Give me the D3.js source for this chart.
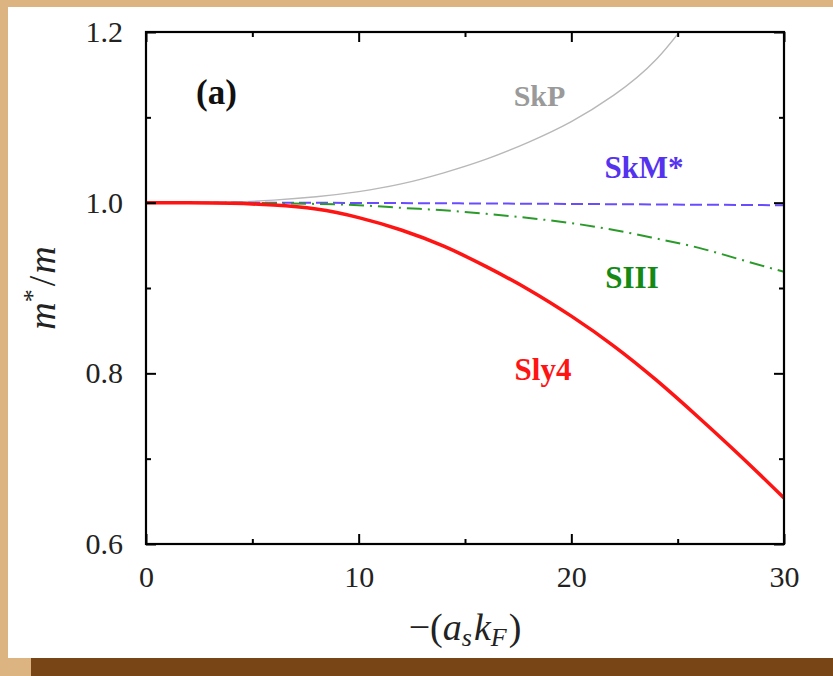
<!DOCTYPE html>
<html>
<head>
<meta charset="utf-8">
<script src="https://cdn.jsdelivr.net/npm/d3@7"></script>
<style>
  html, body { margin: 0; padding: 0; background: #dcb482; }
  svg { display: block; }
  text { font-family: "Liberation Serif", "DejaVu Serif", serif; }
</style>
</head>
<body>
<svg id="chart" width="833" height="676"></svg>
<script>
// -(a_s k_F) sample points
const kF   = [0, 2, 4, 6, 8, 10, 12, 14, 16, 18, 20, 22, 24, 26, 28, 30];
const sly4 = [1.0, 0.9999, 0.9993, 0.9972, 0.9925, 0.9825, 0.968, 0.949, 0.925, 0.898, 0.867, 0.832, 0.792, 0.748, 0.702, 0.654];
const siii = [1.0, 1.0, 0.9998, 0.9993, 0.9985, 0.997, 0.994, 0.991, 0.987, 0.982, 0.976, 0.968, 0.958, 0.947, 0.933, 0.919];
const skm  = [1.0, 1.0, 1.0, 0.9999, 0.9998, 0.9997, 0.9995, 0.9993, 0.999, 0.9988, 0.9985, 0.9982, 0.9979, 0.9976, 0.9973, 0.997];
// SkP leaves the frame near 25, so its samples stop just past the top edge
const skpK = [0, 2, 4, 6, 8, 10, 12, 14, 16, 18, 20, 22, 24, 26];
const skp  = [1.0, 1.0, 1.0007, 1.003, 1.007, 1.013, 1.022, 1.035, 1.051, 1.071, 1.095, 1.126, 1.168, 1.23];

const xMajor = [0, 10, 20, 30];
const xMinor = [5, 15, 25];
const yMajor = [0.6, 0.8, 1.0, 1.2];
const yMinor = [0.7, 0.9, 1.1];

const svg = d3.select("#chart");

// page frame
svg.append("rect").attr("x", 8).attr("y", 7).attr("width", 825).attr("height", 651).attr("fill", "#ffffff");
svg.append("rect").attr("x", 31).attr("y", 658).attr("width", 802).attr("height", 18).attr("fill", "#784516");

const L = 146, R = 784, T = 32, B = 544;
const x = d3.scaleLinear().domain([0, 30]).range([L, R]);
const y = d3.scaleLinear().domain([0.6, 1.2]).range([B, T]);

svg.append("clipPath").attr("id", "plotclip")
  .append("rect").attr("x", L).attr("y", T).attr("width", R - L).attr("height", B - T);

const plot = svg.append("g").attr("clip-path", "url(#plotclip)");
const line = (xs) => d3.line().x((d, i) => x(xs[i])).y(d => y(d)).curve(d3.curveNatural);

plot.append("path").datum(skp).attr("d", line(skpK))
  .attr("fill", "none").attr("stroke", "#b8b8b8").attr("stroke-width", 1.4);
plot.append("path").datum(skm).attr("d", line(kF))
  .attr("fill", "none").attr("stroke", "#6a4cff").attr("stroke-width", 2).attr("stroke-dasharray", "12,5");
plot.append("path").datum(siii).attr("d", line(kF))
  .attr("fill", "none").attr("stroke", "#2a9a2a").attr("stroke-width", 2).attr("stroke-dasharray", "15,6,2,6");
plot.append("path").datum(sly4).attr("d", line(kF))
  .attr("fill", "none").attr("stroke", "#ff1414").attr("stroke-width", 3.5);

// axes with inward ticks on all four sides
const fmtY = d3.format(".1f");
function styleAxis(g) {
  g.selectAll(".domain").remove();
  g.selectAll(".tick line").attr("stroke", "#000").attr("stroke-width", 2);
  g.selectAll("text").attr("font-size", 30).attr("fill", "#222")
    .attr("font-family", "'Liberation Serif', serif");
}
const major = 10, minor = 5;
svg.append("g").attr("transform", `translate(0,${B})`)
  .call(d3.axisBottom(x).tickValues(xMajor).tickSize(-major).tickPadding(22).tickFormat(d3.format("d"))).call(styleAxis);
svg.append("g").attr("transform", `translate(0,${B})`)
  .call(d3.axisBottom(x).tickValues(xMinor).tickSize(-minor).tickFormat("")).call(styleAxis);
svg.append("g").attr("transform", `translate(0,${T})`)
  .call(d3.axisTop(x).tickValues(xMajor).tickSize(-major).tickFormat("")).call(styleAxis);
svg.append("g").attr("transform", `translate(0,${T})`)
  .call(d3.axisTop(x).tickValues(xMinor).tickSize(-minor).tickFormat("")).call(styleAxis);
svg.append("g").attr("transform", `translate(${L},0)`)
  .call(d3.axisLeft(y).tickValues(yMajor).tickSize(-major).tickPadding(23).tickFormat(fmtY)).call(styleAxis);
svg.append("g").attr("transform", `translate(${L},0)`)
  .call(d3.axisLeft(y).tickValues(yMinor).tickSize(-minor).tickFormat("")).call(styleAxis);
svg.append("g").attr("transform", `translate(${R},0)`)
  .call(d3.axisRight(y).tickValues(yMajor).tickSize(-major).tickFormat("")).call(styleAxis);
svg.append("g").attr("transform", `translate(${R},0)`)
  .call(d3.axisRight(y).tickValues(yMinor).tickSize(-minor).tickFormat("")).call(styleAxis);

// frame
svg.append("rect").attr("x", L).attr("y", T).attr("width", R - L).attr("height", B - T)
  .attr("fill", "none").attr("stroke", "#000").attr("stroke-width", 2.2);

// axis titles
const xt = svg.append("text").attr("x", (L + R) / 2).attr("y", 640)
  .attr("text-anchor", "middle").attr("font-size", 38).attr("fill", "#222");
xt.append("tspan").text("\u2212(");
xt.append("tspan").attr("font-style", "italic").text("a");
xt.append("tspan").attr("font-style", "italic").attr("font-size", 26).attr("dy", 6).text("s");
xt.append("tspan").attr("font-style", "italic").attr("dy", -6).attr("dx", 2).text("k");
xt.append("tspan").attr("font-style", "italic").attr("font-size", 26).attr("dy", 6).text("F");
xt.append("tspan").attr("dy", -6).attr("dx", 2).text(")");

const yt = svg.append("text").attr("transform", "translate(55,288) rotate(-90)")
  .attr("text-anchor", "middle").attr("font-size", 38).attr("fill", "#222");
yt.append("tspan").attr("font-style", "italic").text("m");
yt.append("tspan").attr("font-size", 26).attr("dy", -14).text("*");
yt.append("tspan").attr("dy", 14).attr("dx", 3).text("/");
yt.append("tspan").attr("font-style", "italic").attr("dx", 2).text("m");

// curve labels
const labels = [
  { t: "(a)",  x: 216.5, y: 104, c: "#111111", s: 35 },
  { t: "SkP",  x: 539.5, y: 106, c: "#9a9a9a", s: 30 },
  { t: "SkM*", x: 644,   y: 178, c: "#5533ee", s: 31 },
  { t: "SIII", x: 632,   y: 288, c: "#148a14", s: 31 },
  { t: "Sly4", x: 543,   y: 380, c: "#ff1414", s: 31 }
];
svg.selectAll("text.lbl").data(labels).enter().append("text").attr("class", "lbl")
  .attr("x", d => d.x).attr("y", d => d.y).attr("text-anchor", "middle")
  .attr("font-weight", "bold").attr("font-size", d => d.s).attr("fill", d => d.c)
  .text(d => d.t);
</script>
</body>
</html>
